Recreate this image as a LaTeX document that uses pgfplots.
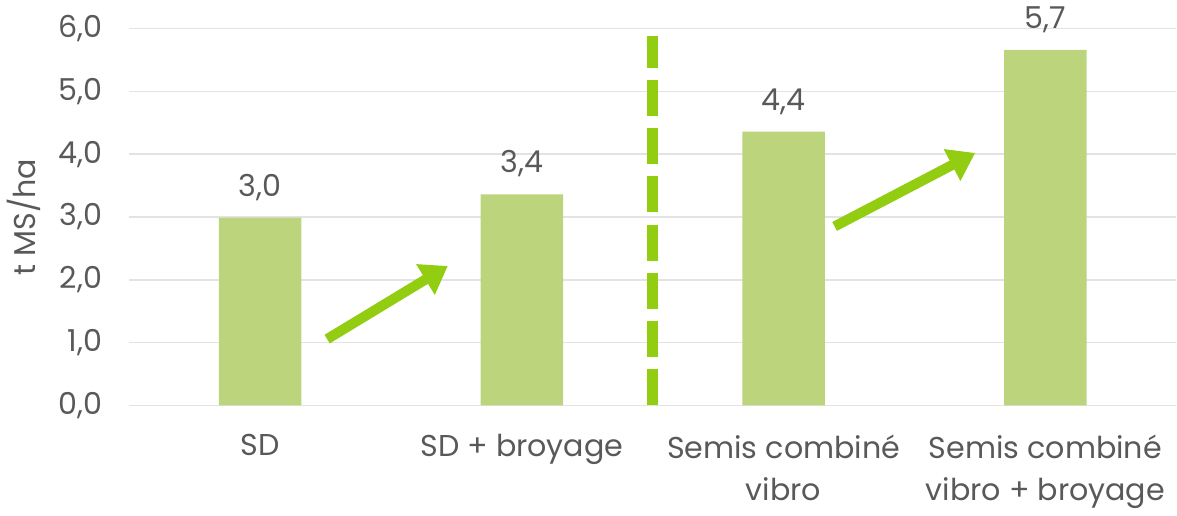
\documentclass[border=0pt]{standalone}
\usepackage{pgfplots}
\pgfplotsset{compat=1.18}
\usepackage{fontspec}
\setmainfont{Poppins}
\usetikzlibrary{arrows.meta}
\definecolor{barc}{HTML}{BCD57D}
\definecolor{arrc}{HTML}{92CD12}
\definecolor{txt}{HTML}{595959}
\definecolor{gridc}{HTML}{E3E3E3}
\begin{document}
\begin{tikzpicture}
\begin{axis}[
  scale only axis,
  width=521pt, height=187.5pt,
  xmin=-0.5, xmax=3.5, ymin=0, ymax=6,
  axis line style={draw=none},
  ytick={0,1,...,6},
  xtick={0,1,2,3},
  xticklabels={SD, SD + broyage, Semis combiné\\vibro, Semis combiné\\vibro + broyage},
  major tick length=0pt,
  ymajorgrids,
  grid style={gridc, line width=0.8pt},
  font=\fontsize{15pt}{21pt}\selectfont,
  tick label style={txt},
  xticklabel style={align=center, anchor=north, yshift=-11pt, font=\fontsize{15pt}{21pt}\selectfont},
  yticklabel style={xshift=-10pt},
  /pgf/number format/.cd, use comma, fixed, fixed zerofill, precision=1, assume math mode=true,
  /pgfplots/.cd,
  ylabel={t MS/ha},
  ylabel style={txt, font=\fontsize{15pt}{17pt}\selectfont, yshift=2pt},
  clip=false,
]
\addplot[ybar, bar width=41pt, fill=barc, draw=none,
  nodes near coords, nodes near coords style={txt, font=\fontsize{15pt}{17pt}\selectfont, anchor=south, yshift=5pt}]
  coordinates {(0,2.99) (1,3.36) (2,4.36) (3,5.66)};
\addplot[arrc, line width=5.5pt, dash pattern=on 18pt off 6pt, forget plot] coordinates {(1.5,0) (1.5,5.89)};
\addplot[arrc, line width=5pt, -{Triangle[length=13pt,width=17pt]}, forget plot] coordinates {(0.256,1.056) (0.717,2.22)};
\addplot[arrc, line width=5pt, -{Triangle[length=13pt,width=17pt]}, forget plot] coordinates {(2.195,2.85) (2.732,4.02)};
\end{axis}
\end{tikzpicture}
\end{document}
